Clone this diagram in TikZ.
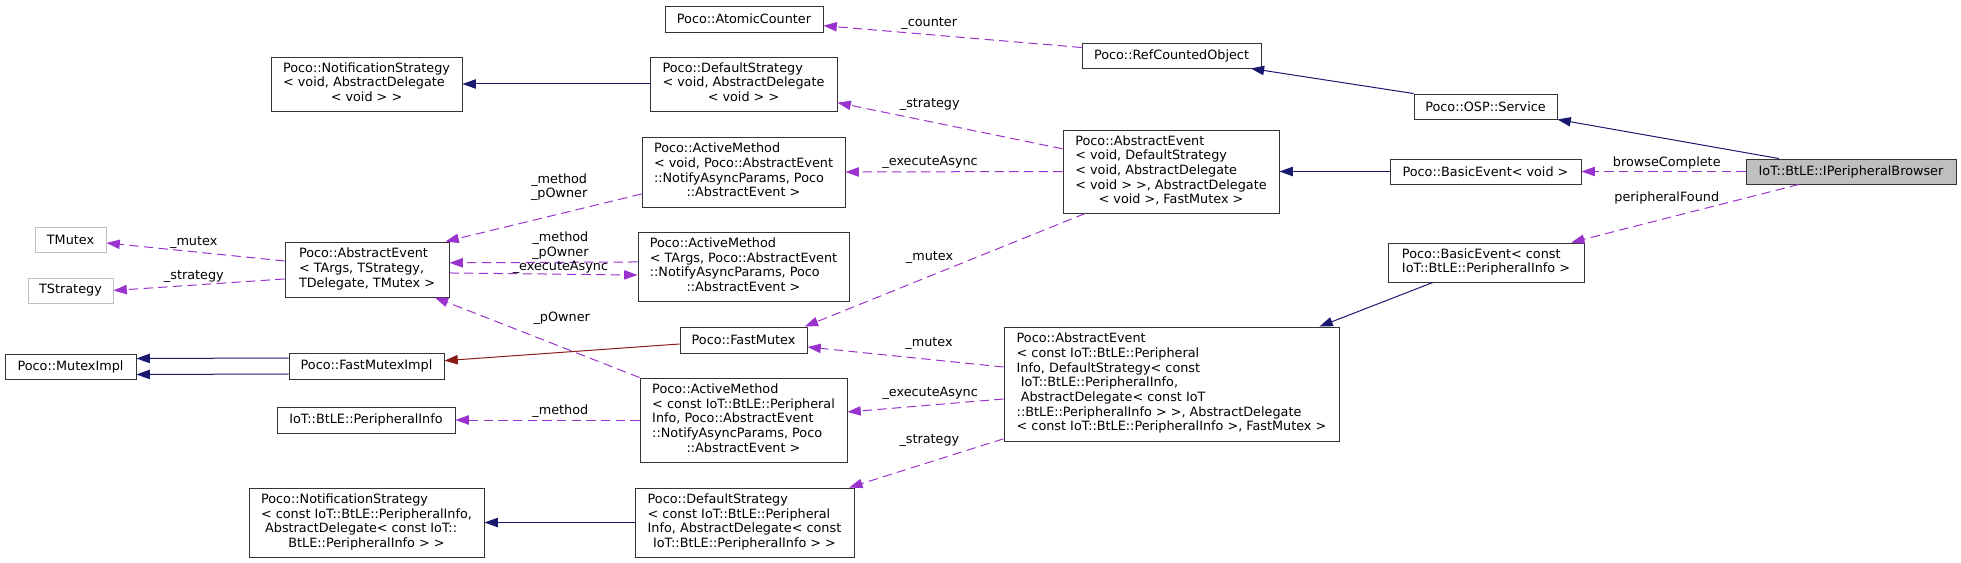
\documentclass[tikz,border=0pt]{standalone}
\usepackage{fontspec}
\setmainfont{DejaVu Sans}
\usepackage{xcolor}
\usepackage{tikz}
\usetikzlibrary{arrows.meta}
\definecolor{doxnavy}{HTML}{191970}
\definecolor{doxorchid}{HTML}{9A32CD}
\definecolor{doxred}{HTML}{8B1A1A}
\definecolor{doxgrey}{HTML}{BFBFBF}
\definecolor{doxedge}{HTML}{333333}
\newcommand{\doxlines}[2]{\begin{tabular}{@{}l@{}}#1\\\multicolumn{1}{@{}c@{}}{#2}\end{tabular}}
\tikzset{
  cbox/.style={draw=doxedge, line width=0.7pt, fill=white, inner sep=1pt, font=\fontsize{9.6}{11}\selectfont},
  sz/.style 2 args={minimum width=#1*0.75pt, minimum height=#2*0.75pt},
  undoc/.style={cbox, draw=doxgrey},
  focus/.style={cbox, fill=doxgrey},
  inherit/.style={doxnavy, line width=0.75pt, -{Triangle[length=10pt,width=7pt]}},
  usage/.style={doxorchid, line width=0.75pt, dash pattern=on 7pt off 4pt, -{Triangle[length=10pt,width=7pt]}},
  privuse/.style={doxred, line width=0.75pt, -{Triangle[length=10pt,width=7pt]}},
  lbl/.style={text=black, inner sep=0pt, align=center, font=\fontsize{9.6}{11}\selectfont}
}

\begin{document}
\begin{tikzpicture}[x=0.75pt, y=-0.75pt]
    \useasboundingbox (0,0) rectangle (1961,563);

    % classes
    \node[cbox, sz={158}{26}] (atomic) at (744,19) {Poco::AtomicCounter};
    \node[cbox, sz={179}{25}] (refobj) at (1171.5,55.5) {Poco::RefCountedObject};
    \node[cbox, sz={191}{54}] (notifvoid) at (366.5,84) {\doxlines{Poco::NotificationStrategy\\< void, AbstractDelegate}{< void > >}};
    \node[cbox, sz={187}{54}] (defvoid) at (743.5,84) {\doxlines{Poco::DefaultStrategy\\< void, AbstractDelegate}{< void > >}};
    \node[cbox, sz={143}{25}] (service) at (1485.5,106.5) {Poco::OSP::Service};
    \node[cbox, sz={203}{70}] (amvoid) at (743.5,172) {\doxlines{Poco::ActiveMethod\\< void, Poco::AbstractEvent\\::NotifyAsyncParams, Poco}{::AbstractEvent >}};
    \node[cbox, sz={216}{83}] (aevoid) at (1171,171.5) {\doxlines{Poco::AbstractEvent\\< void, DefaultStrategy\\< void, AbstractDelegate\\< void > >, AbstractDelegate}{< void >, FastMutex >}};
    \node[cbox, sz={191}{25}] (bevoid) at (1485.5,171.5) {Poco::BasicEvent< void >};
    \node[focus, sz={210}{25}] (browser) at (1851,171.5) {IoT::BtLE::IPeripheralBrowser};
    \node[undoc, sz={71}{25}] (tmutex) at (70.5,239.5) {TMutex};
    \node[undoc, sz={85}{25}] (tstrategy) at (70.5,290.5) {TStrategy};
    \node[cbox, sz={164}{55}] (aetargs) at (367,269.5) {\doxlines{Poco::AbstractEvent\\< TArgs, TStrategy,}{TDelegate, TMutex >}};
    \node[cbox, sz={211}{69}] (amtargs) at (743.5,266.5) {\doxlines{Poco::ActiveMethod\\< TArgs, Poco::AbstractEvent\\::NotifyAsyncParams, Poco}{::AbstractEvent >}};
    \node[cbox, sz={196}{39}] (bconst) at (1486,262.5) {\doxlines{Poco::BasicEvent< const}{IoT::BtLE::PeripheralInfo >}};
    \node[cbox, sz={127}{26}] (fastmutex) at (743.5,340) {Poco::FastMutex};
    \node[cbox, sz={131}{25}] (mutexImpl) at (70.5,366.5) {Poco::MutexImpl};
    \node[cbox, sz={155}{26}] (fmimpl) at (366.5,366) {Poco::FastMutexImpl};
    \node[cbox, sz={335}{114}] (aeconst) at (1171.5,384) {\doxlines{Poco::AbstractEvent\\< const IoT::BtLE::Peripheral\\Info, DefaultStrategy< const\\\ IoT::BtLE::PeripheralInfo,\\\ AbstractDelegate< const IoT\\::BtLE::PeripheralInfo > >, AbstractDelegate}{< const IoT::BtLE::PeripheralInfo >, FastMutex >}};
    \node[cbox, sz={178}{26}] (pinfo) at (366,420) {IoT::BtLE::PeripheralInfo};
    \node[cbox, sz={207}{84}] (amconst) at (743.5,420) {\doxlines{Poco::ActiveMethod\\< const IoT::BtLE::Peripheral\\Info, Poco::AbstractEvent\\::NotifyAsyncParams, Poco}{::AbstractEvent >}};
    \node[cbox, sz={235}{69}] (notifconst) at (366.5,522.5) {\doxlines{Poco::NotificationStrategy\\< const IoT::BtLE::PeripheralInfo,\\\ AbstractDelegate< const IoT::}{BtLE::PeripheralInfo > >}};
    \node[cbox, sz={219}{69}] (defconst) at (744.5,522.5) {\doxlines{Poco::DefaultStrategy\\< const IoT::BtLE::Peripheral\\Info, AbstractDelegate< const}{IoT::BtLE::PeripheralInfo > >}};

    % base classes
    \draw[inherit] (service.north west) -- ([xshift=-8pt]refobj.south east);
    \draw[inherit] ([xshift=25pt]browser.north west) -- (service.south east);
    \draw[inherit] (bevoid.west) -- (aevoid.east);
    \draw[inherit] ([xshift=34pt]bconst.south west) -- ([xshift=-15pt]aeconst.north east);
    \draw[inherit] (defvoid.west) -- (notifvoid.east);
    \draw[inherit] (defconst.west) -- (notifconst.east);
    \draw[inherit] ([yshift=6pt]fmimpl.west) -- ([yshift=6pt]mutexImpl.east);
    \draw[inherit] ([yshift=-6pt]fmimpl.west) -- ([yshift=-6pt]mutexImpl.east);
    \draw[privuse] ([yshift=-3pt]fastmutex.west) -- ([yshift=4pt]fmimpl.east);

    % members
    \draw[usage] ([yshift=6pt]refobj.west) -- node[lbl, pos=0.59, yshift=8pt] {\_counter} ([yshift=-5pt]atomic.east);
    \draw[usage] (browser.west) -- node[lbl, pos=0.48, yshift=6.4pt] {browseComplete} (bevoid.east);
    \draw[usage] ([xshift=40pt]browser.south west) -- node[lbl, pos=0.58, yshift=15pt] {peripheralFound} ([xshift=-10pt]bconst.north east);
    \draw[usage] ([yshift=17pt]aevoid.west) -- node[lbl, pos=0.59, yshift=12.8pt] {\_strategy} ([yshift=-14pt]defvoid.east);
    \draw[usage] (aevoid.west) -- node[lbl, pos=0.61, yshift=6.75pt] {\_executeAsync} (amvoid.east);
    \draw[usage] ([xshift=17pt]aevoid.south west) -- node[lbl, pos=0.555, yshift=14pt] {\_mutex} ([xshift=-2pt]fastmutex.north east);
    \draw[usage] ([yshift=-16.5pt]amvoid.west) -- node[lbl, pos=0.42, yshift=20pt] {\_method\\\_pOwner} ([xshift=-3pt]aetargs.north east);
    \draw[usage] ([yshift=3.4pt]amtargs.west) -- node[lbl, pos=0.41, yshift=12.7pt] {\_method\\\_pOwner} ([yshift=5pt]aetargs.east);
    \draw[usage] ([yshift=-2.6pt]aetargs.east) -- node[lbl, pos=0.59, yshift=5.5pt] {\_executeAsync} ([yshift=-6.4pt]amtargs.west);
    \draw[usage] ([yshift=6.4pt]aetargs.west) -- node[lbl, pos=0.51, yshift=6.6pt] {\_mutex} ([yshift=-2.6pt]tmutex.east);
    \draw[usage] ([yshift=-7.1pt]aetargs.west) -- node[lbl, pos=0.53, yshift=6.6pt] {\_strategy} (tstrategy.east);
    \draw[usage] (amconst.north west) -- node[lbl, pos=0.38, yshift=21.8pt] {\_pOwner} ([xshift=-11pt]aetargs.south east);
    \draw[usage] ([yshift=12.75pt]aeconst.west) -- node[lbl, pos=0.38, yshift=11.6pt] {\_mutex} ([yshift=-5.25pt]fastmutex.east);
    \draw[usage] ([yshift=-11.25pt]aeconst.west) -- node[lbl, pos=0.47, yshift=9pt] {\_executeAsync} ([yshift=6pt]amconst.east);
    \draw[usage] (amconst.west) -- node[lbl, pos=0.43, yshift=6.75pt] {\_method} (pinfo.east);
    \draw[usage] ([yshift=2pt]aeconst.south west) -- node[lbl, pos=0.48, yshift=16.5pt] {\_strategy} ([xshift=-4pt]defconst.north east);
\end{tikzpicture}
\end{document}
